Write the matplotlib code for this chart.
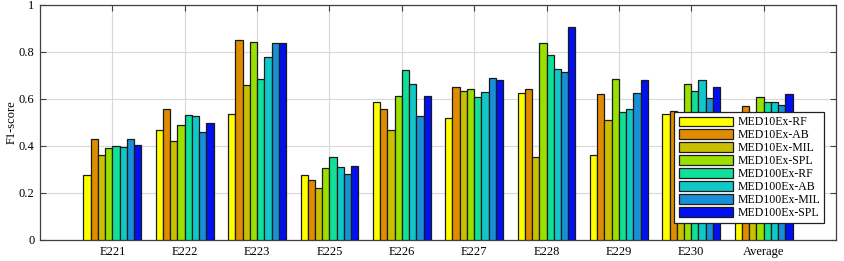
import numpy as np
import matplotlib.pyplot as plt

plt.rcParams['font.family'] = ['Liberation Serif', 'DejaVu Serif']

events = ['E221', 'E222', 'E223', 'E225', 'E226', 'E227', 'E228', 'E229', 'E230', 'Average']
methods = ['MED10Ex-RF', 'MED10Ex-AB', 'MED10Ex-MIL', 'MED10Ex-SPL',
           'MED100Ex-RF', 'MED100Ex-AB', 'MED100Ex-MIL', 'MED100Ex-SPL']

# F1-score per method, one value per event (last value = average)
med10_rf   = [0.277, 0.466, 0.534, 0.277, 0.586, 0.517, 0.626, 0.360, 0.537, 0.464]
med10_ab   = [0.431, 0.557, 0.853, 0.256, 0.559, 0.651, 0.641, 0.621, 0.549, 0.569]
med10_mil  = [0.360, 0.421, 0.661, 0.221, 0.466, 0.636, 0.354, 0.509, 0.520, 0.461]
med10_spl  = [0.390, 0.489, 0.844, 0.307, 0.611, 0.643, 0.840, 0.684, 0.663, 0.608]
med100_rf  = [0.399, 0.531, 0.684, 0.353, 0.724, 0.609, 0.789, 0.546, 0.633, 0.585]
med100_ab  = [0.394, 0.527, 0.777, 0.310, 0.664, 0.629, 0.729, 0.557, 0.681, 0.585]
med100_mil = [0.431, 0.461, 0.839, 0.280, 0.527, 0.689, 0.716, 0.626, 0.604, 0.575]
med100_spl = [0.404, 0.499, 0.837, 0.313, 0.613, 0.680, 0.906, 0.680, 0.649, 0.620]

series = [med10_rf, med10_ab, med10_mil, med10_spl,
          med100_rf, med100_ab, med100_mil, med100_spl]
colors = ['#FFFF00', '#E08C00', '#C8C000', '#9AE000',
          '#10E098', '#10C8C8', '#1890D8', '#0010F0']

fig = plt.figure(figsize=(8.44, 2.61), dpi=100)
ax = fig.add_axes([0.0474, 0.0805, 0.9431, 0.9005])

x = np.arange(1, len(events) + 1)
w = 0.8 / len(series)
for i, (vals, c, lab) in enumerate(zip(series, colors, methods)):
    ax.bar(x - 0.4 + w * (i + 0.5), vals, w, color=c, edgecolor='#1a1a1a',
           linewidth=0.9, label=lab, zorder=3)

ax.set_xlim(0, len(events) + 1)
ax.set_ylim(0, 1)
ax.set_xticks(x)
ax.set_xticklabels(events, fontsize=9)
ax.set_yticks([0, 0.2, 0.4, 0.6, 0.8, 1])
ax.set_yticklabels(['0', '0.2', '0.4', '0.6', '0.8', '1'], fontsize=9)
ax.set_ylabel('F1-score', fontsize=9, labelpad=1)
ax.grid(True, color='#d8d8d8', linewidth=0.8, zorder=0)
ax.tick_params(direction='in', top=True, right=True, length=4, color='#404040', pad=4)
for s in ax.spines.values():
    s.set_color('#404040')
    s.set_linewidth(0.9)

leg = ax.legend(loc='lower left', bbox_to_anchor=(0.797, 0.072), fontsize=8.5,
                fancybox=False, framealpha=1, edgecolor='#202020',
                handlelength=4.6, handleheight=0.85, labelspacing=0.08,
                borderpad=0.35, handletextpad=0.4, borderaxespad=0)
leg.get_frame().set_linewidth(0.9)
leg.set_zorder(5)

fig.savefig('out.png', dpi=100)
